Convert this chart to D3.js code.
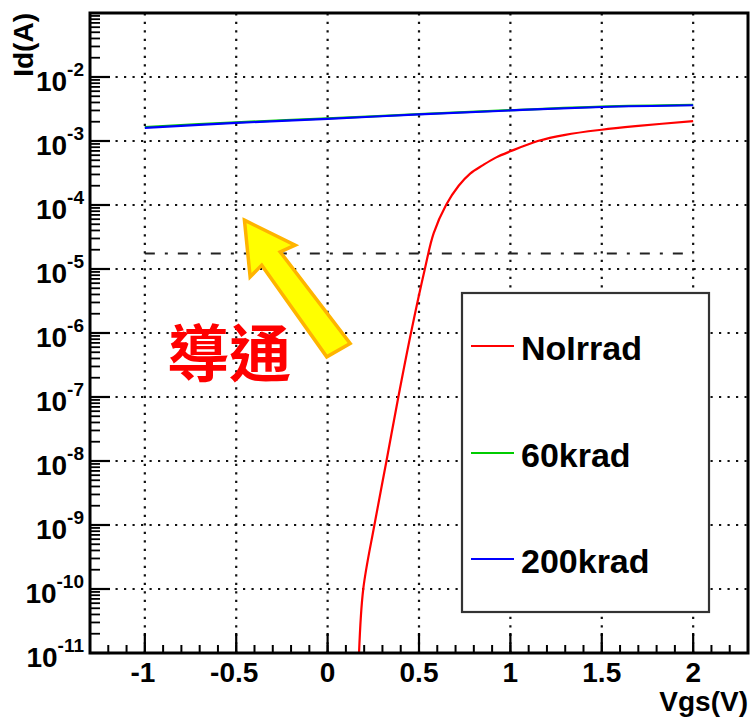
<!DOCTYPE html>
<html>
<head>
<meta charset="utf-8">
<script src="https://cdn.jsdelivr.net/npm/d3@7"></script>
<style>
  html, body { margin: 0; padding: 0; background: #fff; }
  svg { display: block; }
  text { font-family: "Liberation Sans", Arial, Helvetica, sans-serif; font-weight: bold; fill: #000; }
</style>
</head>
<body>
<svg id="chart" width="752" height="718"></svg>
<script>
// ---------- data ----------
const xTickValues = [-1, -0.5, 0, 0.5, 1, 1.5, 2];
const xTickLabels = ["-1", "-0.5", "0", "0.5", "1", "1.5", "2"];
const yTickExponents = [-11, -10, -9, -8, -7, -6, -5, -4, -3, -2];

const seriesNames = ["NoIrrad", "60krad", "200krad"];
const seriesColors = ["#ff0000", "#00cc00", "#0000ff"];

const vgsNoIrrad = [0.172, 0.195, 0.256, 0.322, 0.387, 0.456, 0.532, 0.58, 0.648, 0.717, 0.78, 0.85, 0.92, 1.0, 1.15, 1.3, 1.5, 1.7, 2.0];
const idNoIrrad  = [1e-11, 1e-10, 1e-9, 1e-8, 1e-7, 1e-6, 1e-5, 3.6e-5, 1e-4, 2.0e-4, 3.1e-4, 4.2e-4, 5.5e-4, 6.9e-4, 1.0e-3, 1.25e-3, 1.5e-3, 1.72e-3, 2.05e-3];

const vgsIrrad = [-1, -0.5, 0, 0.5, 1, 1.5, 2];
const id60krad  = [1.65e-3, 1.96e-3, 2.25e-3, 2.63e-3, 3.03e-3, 3.44e-3, 3.66e-3];
const id200krad = [1.6e-3, 1.92e-3, 2.22e-3, 2.6e-3, 3.0e-3, 3.4e-3, 3.62e-3];

const thresholdId = 1.75e-5;
const thresholdRange = [-1, 2];

const arrowTip = { vgs: -0.455, id: 5.8e-5 };

// ---------- layout ----------
const svg = d3.select("#chart");
const L = 90, T = 13, R = 748, B = 653;

const x = d3.scaleLinear().domain([-1.3, 2.3]).range([L, R]);
const y = d3.scaleLog().domain([1e-11, 1e-1]).range([B, T]);

svg.append("defs").append("clipPath").attr("id", "clip")
  .append("rect").attr("x", L).attr("y", T).attr("width", R - L).attr("height", B - T);

// ---------- grid ----------
const grid = svg.append("g").attr("stroke", "#111").attr("stroke-width", 2.2).attr("stroke-dasharray", "2.2,6.3");
grid.selectAll(".vg").data(xTickValues).enter().append("line")
  .attr("x1", d => x(d)).attr("x2", d => x(d)).attr("y1", B).attr("y2", T);
grid.selectAll(".hg").data(yTickExponents.filter(e => e > -11)).enter().append("line")
  .attr("x1", L).attr("x2", R).attr("y1", d => y(Math.pow(10, d))).attr("y2", d => y(Math.pow(10, d)));

// ---------- threshold dash-dot ----------
svg.append("line")
  .attr("x1", x(thresholdRange[0])).attr("x2", x(thresholdRange[1]))
  .attr("y1", y(thresholdId)).attr("y2", y(thresholdId))
  .attr("stroke", "#222").attr("stroke-width", 2)
  .attr("stroke-dasharray", "10,10,3,10");

// ---------- curves ----------
const line = d3.line().x(d => x(d[0])).y(d => y(d[1])).curve(d3.curveCatmullRom.alpha(0.5));
const curves = svg.append("g").attr("clip-path", "url(#clip)").attr("fill", "none").attr("stroke-width", 2.2);
curves.append("path").attr("d", line(vgsNoIrrad.map((v, i) => [v, idNoIrrad[i]]))).attr("stroke", seriesColors[0]);
curves.append("path").attr("d", line(vgsIrrad.map((v, i) => [v, id60krad[i]]))).attr("stroke", seriesColors[1]);
curves.append("path").attr("d", line(vgsIrrad.map((v, i) => [v, id200krad[i]]))).attr("stroke", seriesColors[2]);

// ---------- axes (ROOT style, inward ticks) ----------
const ax = svg.append("g").attr("stroke", "#000");
const xMinor = d3.range(-13, 24).map(i => i / 10);
ax.selectAll(".xm").data(xMinor).enter().append("line")
  .attr("x1", d => x(d)).attr("x2", d => x(d)).attr("y1", B).attr("y2", B - 8).attr("stroke-width", 2);
ax.selectAll(".xM").data(xTickValues).enter().append("line")
  .attr("x1", d => x(d)).attr("x2", d => x(d)).attr("y1", B).attr("y2", B - 20).attr("stroke-width", 2.2);
const yMinor = [];
for (let e = -11; e < -1; e++) for (let k = 2; k <= 9; k++) yMinor.push(k * Math.pow(10, e));
ax.selectAll(".ym").data(yMinor).enter().append("line")
  .attr("x1", L).attr("x2", L + 10).attr("y1", d => y(d)).attr("y2", d => y(d)).attr("stroke-width", 1.8);
ax.selectAll(".yM").data(yTickExponents).enter().append("line")
  .attr("x1", L).attr("x2", L + 20).attr("y1", d => y(Math.pow(10, d))).attr("y2", d => y(Math.pow(10, d))).attr("stroke-width", 2.2);

// frame
svg.append("rect").attr("x", L).attr("y", T).attr("width", R - L).attr("height", B - T)
  .attr("fill", "none").attr("stroke", "#000").attr("stroke-width", 3);

// x tick labels
svg.selectAll(".xl").data(xTickValues).enter().append("text")
  .attr("x", (d, i) => x(d) + (xTickLabels[i].startsWith("-") ? -2 : 0))
  .attr("y", 682).attr("text-anchor", "middle").attr("font-size", 28)
  .text((d, i) => xTickLabels[i]);

// y tick labels 10^n
const yl = svg.selectAll(".yl").data(yTickExponents).enter().append("text")
  .attr("x", 84).attr("y", d => y(Math.pow(10, d)) + 14).attr("text-anchor", "end");
yl.append("tspan").attr("font-size", 28).text("10");
yl.append("tspan").attr("font-size", 19).attr("dy", -15).text(d => String(d));

// axis titles
svg.append("text").attr("x", 748).attr("y", 711).attr("text-anchor", "end").attr("font-size", 28).text("Vgs(V)");
svg.append("text").attr("transform", "translate(33,13) rotate(-90)").attr("text-anchor", "end").attr("font-size", 28).text("Id(A)");

// ---------- legend ----------
const lg = svg.append("g");
lg.append("rect").attr("x", 462).attr("y", 293).attr("width", 247).attr("height", 319)
  .attr("fill", "#fff").attr("stroke", "#333").attr("stroke-width", 2.2);
const legY = [346, 453, 559];
seriesNames.forEach((name, i) => {
  lg.append("line").attr("x1", 471).attr("x2", 514).attr("y1", legY[i]).attr("y2", legY[i])
    .attr("stroke", seriesColors[i]).attr("stroke-width", 2.2);
  lg.append("text").attr("x", 521).attr("y", legY[i] + 14).attr("font-size", 34).text(name);
});

// ---------- annotation arrow + text ----------
const tx = x(arrowTip.vgs), ty = y(arrowTip.id);
const arrowPts = [[0, 0], [50.7, 25], [35.7, 31.7], [105.7, 123.3], [82.3, 136.7], [17.3, 45], [5.7, 56.7]];
svg.append("polygon")
  .attr("points", arrowPts.map(p => [tx + p[0], ty + p[1]].join(",")).join(" "))
  .attr("fill", "#ffff00").attr("stroke", "#ffb400").attr("stroke-width", 3.5).attr("stroke-linejoin", "miter");

svg.append("text").attr("x", 167).attr("y", 377)
  .style("font-family", "'Noto Sans CJK TC', 'Noto Sans CJK SC', sans-serif")
  .attr("font-weight", 900).attr("font-size", 62).style("fill", "#ff0000").text("導通");
</script>
</body>
</html>
